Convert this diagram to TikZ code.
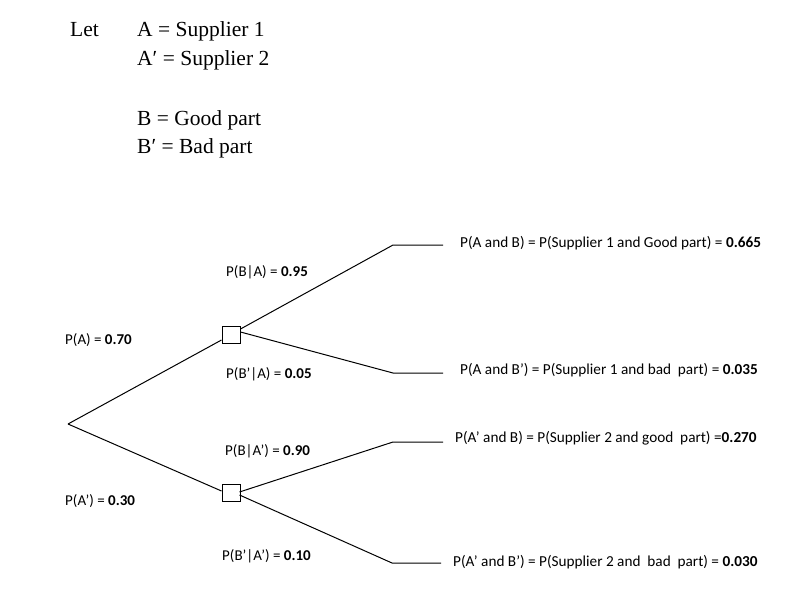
\documentclass[tikz,border=0pt]{standalone}
\usepackage{fontspec}
\setmainfont{Carlito}
\newfontfamily\serifface{Liberation Serif}
\begin{document}
\begin{tikzpicture}[x=1pt,y=-1pt,
  lbl/.style={anchor=base west,inner sep=0pt,font=\fontsize{15}{18}\selectfont},
  rlbl/.style={anchor=base west,inner sep=0pt,font=\fontsize{15.25}{18}\selectfont},
  deftxt/.style={anchor=base west,inner sep=0pt,font=\serifface\fontsize{21.5}{25}\selectfont},
  branch/.style={line width=1pt,black},
  chance/.style={draw,line width=1pt,minimum width=18pt,minimum height=17pt,inner sep=0pt,fill=white}]
\useasboundingbox (0,0) rectangle (807,611);
% definitions
\node[deftxt] (let) at (70,36) {Let};
\node[deftxt] (d1) at (137,36) {A = Supplier 1};
\node[deftxt] (d2) at (137,65) {A′ = Supplier 2};
\node[deftxt] (d3) at (137,125) {B = Good part};
\node[deftxt] (d4) at (137,153) {B′ = Bad part};
% tree
\coordinate (root) at (68,424);
\node[chance] (b1) at (231,334.5) {};
\node[chance] (b2) at (231,493) {};
\coordinate (k1) at (393,245);
\coordinate (e1) at (443,245);
\coordinate (k2) at (393,373);
\coordinate (e2) at (443,373);
\coordinate (k3) at (393,442);
\coordinate (e3) at (443,442);
\coordinate (k4) at (392,563);
\coordinate (e4) at (441,563);
\draw[branch] (root) -- (b1.south west |- 0,340);
\draw[branch] (root) -- (b2.south west |- 0,491);
\draw[branch] (b1.north east |- 0,329) -- (k1) -- (e1);
\draw[branch] (b1.east |- 0,332) -- (k2) -- (e2);
\draw[branch] ([xshift=-1pt]b2.east |- 0,492) -- (k3) -- (e3);
\draw[branch] ([xshift=-1pt]b2.east |- 0,495) -- (k4) -- (e4);
% labels
\node[lbl] (pa) at (65,344) {P(A) = \textbf{0.70}};
\node[lbl] (pan) at (65,505.5) {P(A’) = \textbf{0.30}};
\node[lbl] (pba) at (226,276) {P(B|A) = \textbf{0.95}};
\node[lbl] (pbna) at (226,378) {P(B’|A) = \textbf{0.05}};
\node[lbl] (pban) at (225,455.5) {P(B|A’) = \textbf{0.90}};
\node[lbl] (pbnan) at (222,560.5) {P(B’|A’) = \textbf{0.10}};
\node[rlbl] (r1) at (460,247) {P(A and B) = P(Supplier 1 and Good part) = \textbf{0.665}};
\node[rlbl] (r2) at (460,374) {P(A and B’) = P(Supplier 1 and bad\ \ part) = \textbf{0.035}};
\node[rlbl] (r3) at (455,442.5) {P(A’ and B) = P(Supplier 2 and good\ \ part) =\textbf{0.270}};
\node[rlbl] (r4) at (453,566) {P(A’ and B’) = P(Supplier 2 and\ \ bad\ \ part) = \textbf{0.030}};
\end{tikzpicture}
\end{document}
